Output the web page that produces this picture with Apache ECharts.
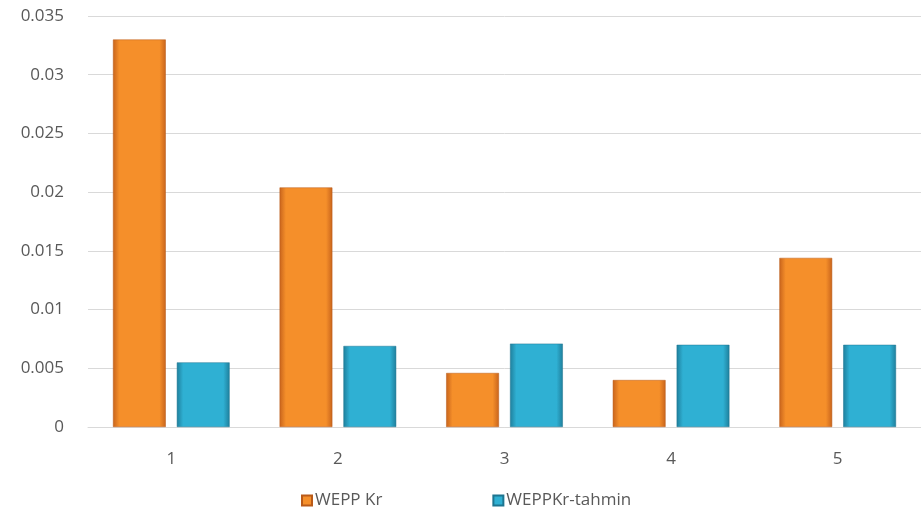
<!DOCTYPE html>
<html>
<head>
<meta charset="utf-8">
<script src="https://cdn.jsdelivr.net/npm/echarts@6/dist/echarts.min.js"></script>
<style>
  html, body { margin: 0; padding: 0; background: #fff; }
  #chart { width: 921px; height: 517px; }
</style>
</head>
<body>
<div id="chart"></div>
<script>
const categories = ['1', '2', '3', '4', '5']
const wepp_kr = [0.0330, 0.0204, 0.0046, 0.0040, 0.0144]
const wepp_kr_tahmin = [0.0055, 0.0069, 0.0071, 0.0070, 0.0070]
const seriesNames = ['WEPP Kr', 'WEPPKr-tahmin']

const FONT = '"Open Sans", "Noto Sans", sans-serif'

const barGrad = (edge, mid) => new echarts.graphic.LinearGradient(0, 0, 1, 0, [
  { offset: 0, color: edge },
  { offset: 0.12, color: mid },
  { offset: 0.88, color: mid },
  { offset: 1, color: edge },
])

const chart = echarts.init(document.getElementById('chart'))
chart.setOption({
  backgroundColor: '#fff',
  animation: false,
  grid: { left: 88, right: 0, top: 16, bottom: 90 },
  legend: {
    left: 296,
    top: 487,
    itemWidth: 10,
    itemHeight: 10,
    itemGap: 110,
    icon: 'rect',
    textStyle: { fontFamily: FONT, fontSize: 17, color: '#595959', padding: [0, 0, 0, -2] },
    data: seriesNames,
  },
  xAxis: {
    type: 'category',
    data: categories,
    axisLine: { lineStyle: { color: '#d9d9d9', width: 1 } },
    axisTick: { show: false },
    axisLabel: { fontFamily: FONT, fontSize: 17, color: '#595959', margin: 24 },
  },
  yAxis: {
    type: 'value',
    min: 0,
    max: 0.035,
    interval: 0.005,
    axisLine: { show: false },
    axisTick: { show: false },
    splitLine: { lineStyle: { color: '#d9d9d9', width: 1 } },
    axisLabel: { fontFamily: FONT, fontSize: 17, color: '#595959', margin: 24 },
  },
  series: [
    {
      name: seriesNames[0],
      type: 'bar',
      data: wepp_kr,
      barGap: '21%',
      barCategoryGap: '30%',
      itemStyle: {
        color: barGrad('#c8641c', '#f58f2a'),
        borderColor: '#b95a18',
        borderWidth: 0.5,
      },
    },
    {
      name: seriesNames[1],
      type: 'bar',
      data: wepp_kr_tahmin,
      itemStyle: {
        color: barGrad('#1f7f9c', '#2fb0d3'),
        borderColor: '#1d7590',
        borderWidth: 0.5,
      },
    },
  ],
})
</script>
</body>
</html>
